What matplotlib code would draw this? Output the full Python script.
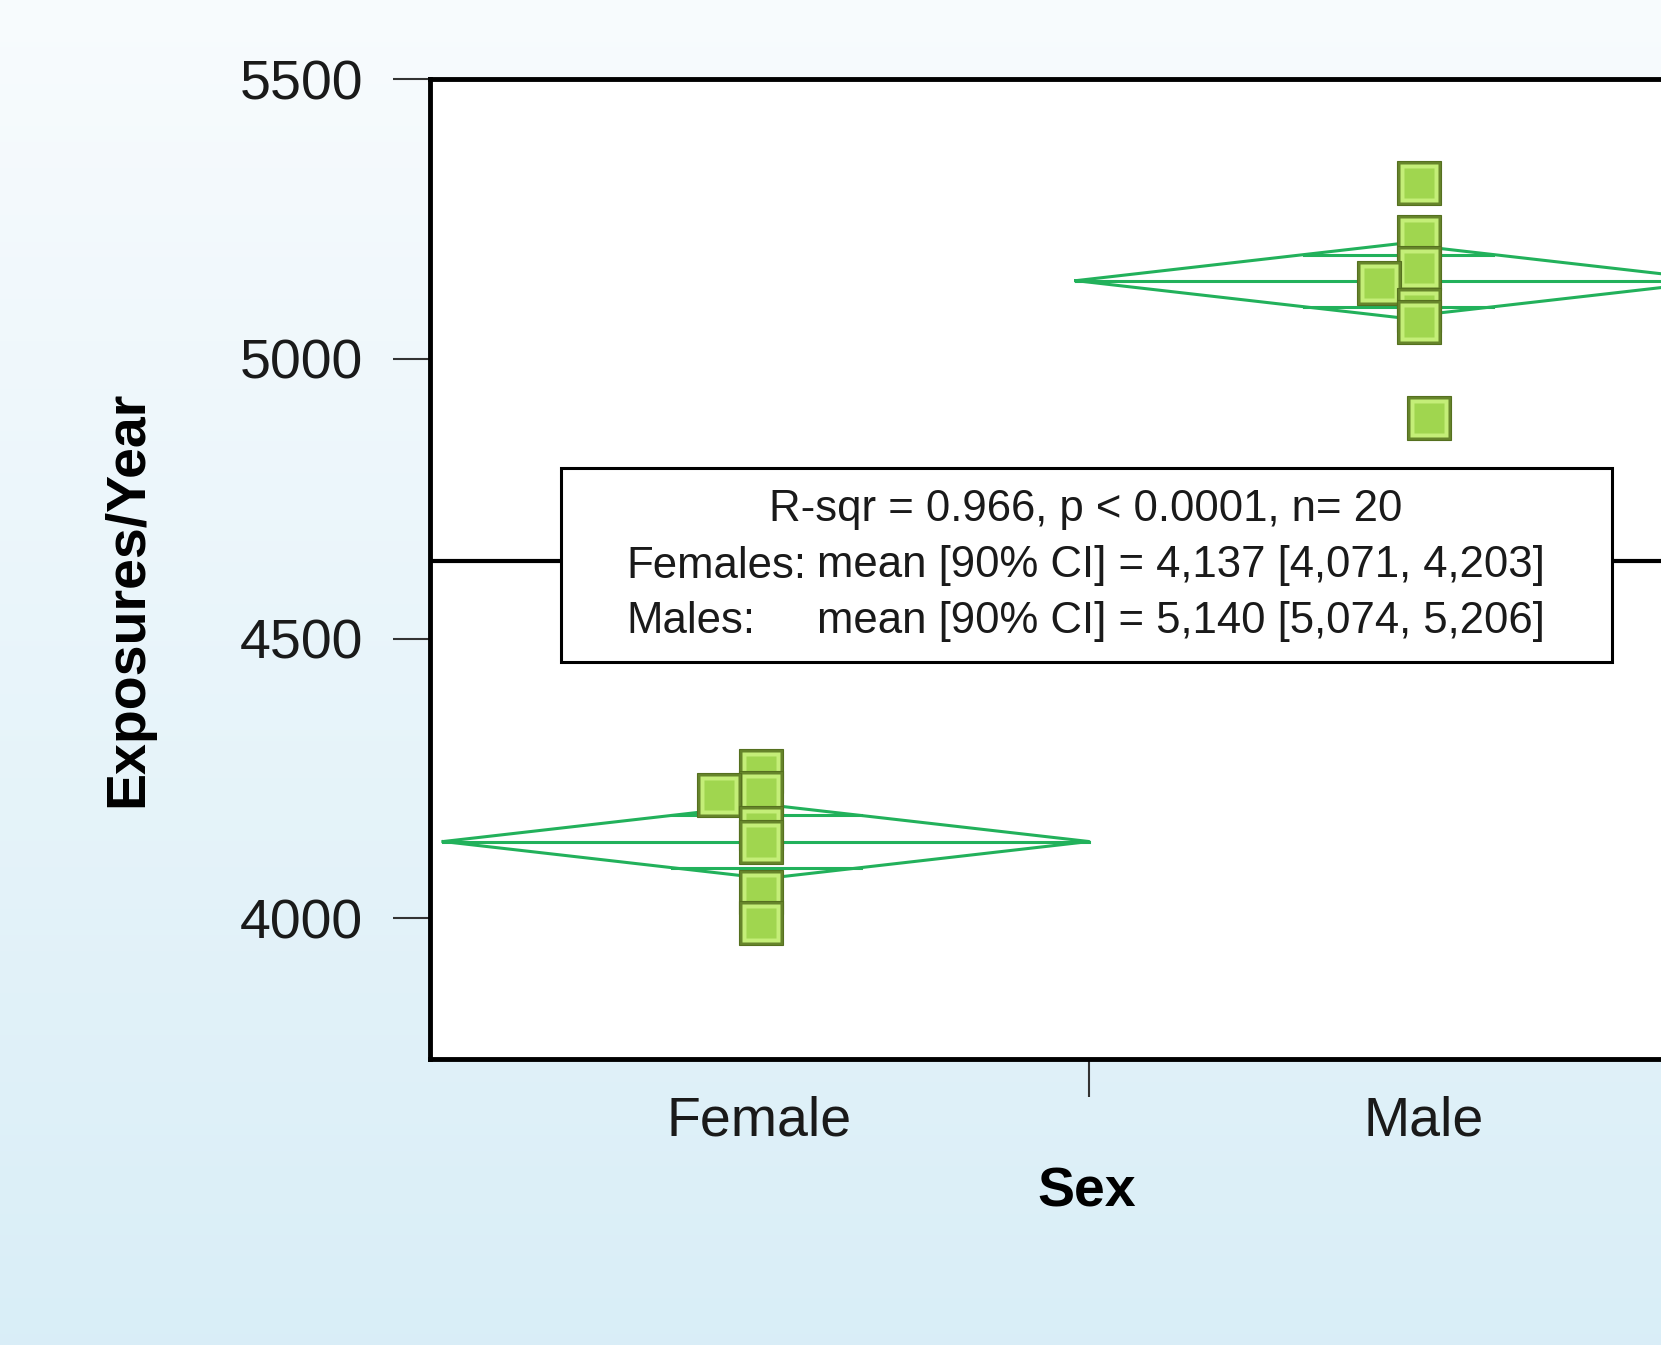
import matplotlib.pyplot as plt
import numpy as np
from matplotlib.patches import Rectangle

plt.rcParams['font.family'] = ['Liberation Sans', 'DejaVu Sans']

# data
groups = ['Female', 'Male']
female_x = [0.4385, 0.502, 0.502, 0.502, 0.502, 0.502, 0.502]
female_y = [4220, 4263, 4224, 4161, 4136, 4047, 3991]
male_x = [1.44, 1.5008, 1.5008, 1.5008, 1.5008, 1.5008, 1.516]
male_y = [5136, 5315, 5218, 5163, 5088, 5066, 4894]
means = [4137, 5140]
ci_low = [4071, 5074]
ci_high = [4203, 5206]
diamond_center = [0.51, 1.47]
r_sqr = 0.966
n_total = 20

fig = plt.figure(figsize=(16.61, 13.45), dpi=100)

# background gradient
bg = fig.add_axes([0, 0, 1, 1], zorder=-10)
top = np.array([0.972, 0.986, 0.994])
bot = np.array([0.851, 0.933, 0.969])
t = np.linspace(0, 1, 256)[:, None]
grad = top[None, :] * (1 - t) + bot[None, :] * t
bg.imshow(grad[:, None, :], aspect='auto', extent=[0, 1, 0, 1])
bg.axis('off')

ax = fig.add_axes([0.2589, 0.2126, 0.7935, 0.7284])
ax.set_facecolor('white')
ax.set_xlim(0, 2)
ax.set_ylim(3748, 5500)

for s in ax.spines.values():
    s.set_linewidth(3.5)
    s.set_color('black')

# grand mean
grand = np.mean(means)
ax.axhline(grand, color='black', lw=3, zorder=1)

# mean diamonds
dcol = '#22b15b'
hw = 0.49
for c, m, lo, hi in zip(diamond_center, means, ci_low, ci_high):
    ax.plot([c - hw, c, c + hw, c, c - hw], [m, hi, m, lo, m], color=dcol, lw=2.2, zorder=2)
    ax.plot([c - hw, c + hw], [m, m], color=dcol, lw=2.2, zorder=2)
    half = (hi - m) / np.sqrt(2)
    w = hw * (1 - 1 / np.sqrt(2))
    for yy in (m + half, m - half):
        ax.plot([c - w, c + w], [yy, yy], color=dcol, lw=2.2, zorder=2)

# beveled square points
def draw_points(xs, ys, z0):
    order = np.argsort(ys)[::-1]
    z = z0
    for i in order:
        ax.plot(xs[i], ys[i], marker='s', ms=31, mfc='#66852b', mec='#55701f', mew=0.8, zorder=z)
        ax.plot(xs[i], ys[i], marker='s', ms=27, mfc='#c4ee78', mec='none', zorder=z + 0.01)
        ax.plot(xs[i], ys[i], marker='s', ms=21, mfc='#a0d64f', mec='none', zorder=z + 0.02)
        z += 0.1

draw_points(female_x, female_y, 3)
draw_points(male_x, male_y, 3)

# ticks
ax.set_yticks([4000, 4500, 5000, 5500])
ax.tick_params(axis='y', length=27, width=1.5, color='#333333', pad=21,
               labelsize=40, labelcolor='#1a1a1a')
ax.set_xticks([0.5, 1.507])
ax.set_xticklabels(groups)
ax.tick_params(axis='x', which='major', length=0, pad=26, labelsize=40, labelcolor='#1a1a1a')
ax.set_xticks([1.0], minor=True)
ax.tick_params(axis='x', which='minor', length=27, width=1.5, color='#333333')

ax.set_ylabel('Exposures/Year', fontsize=40, fontweight='bold')
ax.yaxis.set_label_coords(-0.2291, 0.470)
ax.yaxis.label.set_verticalalignment('center')
ax.set_xlabel('Sex', fontsize=40, fontweight='bold')
ax.xaxis.set_label_coords(0.4985, -0.136)
ax.xaxis.label.set_verticalalignment('center')

# stats box (figure pixel positions)
W, H = 1661, 1345
def fx(px):
    return px / W
def fy(py):
    return 1 - py / H

fig.patches.append(Rectangle((fx(560.7), fy(662.3)), fx(1612) - fx(560.7), fy(467.7) - fy(662.3),
                             transform=fig.transFigure, facecolor='white', edgecolor='black',
                             lw=2.2, zorder=5))
fs = 31.5
fig.text(fx(1086), fy(521), 'R-sqr = %.3f, p < 0.0001, n= %d' % (r_sqr, n_total),
         ha='center', va='baseline', fontsize=fs, color='#1a1a1a', zorder=6)
rows = [('Females:', 0), ('Males:', 1)]
for (lab, i), base in zip(rows, [577.5, 633.5]):
    fig.text(fx(626), fy(base), lab, ha='left', va='baseline', fontsize=fs, color='#1a1a1a', zorder=6)
    txt = 'mean [90% CI] = {:,} [{:,}, {:,}]'.format(means[i], ci_low[i], ci_high[i])
    fig.text(fx(817), fy(base), txt, ha='left', va='baseline', fontsize=fs, color='#1a1a1a', zorder=6)

fig.savefig('out.png', dpi=100)
